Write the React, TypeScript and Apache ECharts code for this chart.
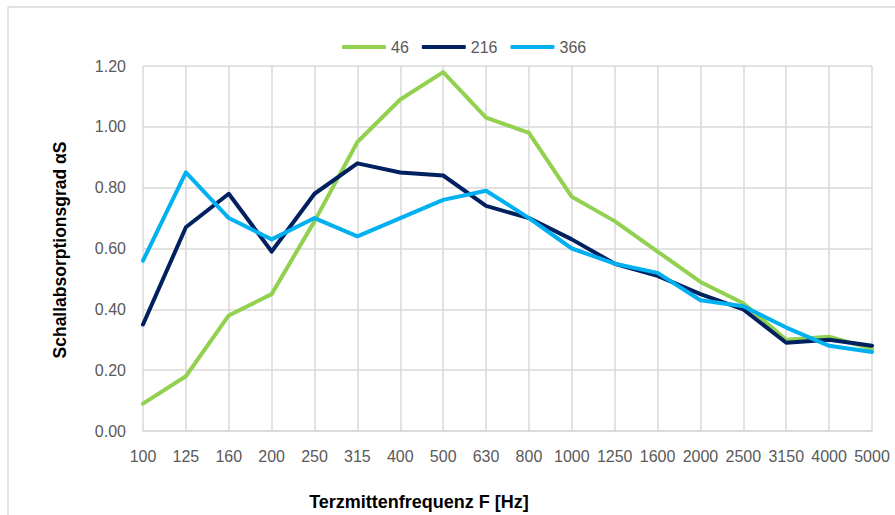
import React, { useEffect, useRef } from "react";
import * as echarts from "echarts";

const categories = ["100", "125", "160", "200", "250", "315", "400", "500", "630", "800", "1000", "1250", "1600", "2000", "2500", "3150", "4000", "5000"];
const series46 = [0.09, 0.18, 0.38, 0.45, 0.69, 0.95, 1.09, 1.18, 1.03, 0.98, 0.77, 0.69, 0.59, 0.49, 0.42, 0.30, 0.31, 0.27];
const series216 = [0.35, 0.67, 0.78, 0.59, 0.78, 0.88, 0.85, 0.84, 0.74, 0.70, 0.63, 0.55, 0.51, 0.45, 0.40, 0.29, 0.30, 0.28];
const series366 = [0.56, 0.85, 0.70, 0.63, 0.70, 0.64, 0.70, 0.76, 0.79, 0.70, 0.60, 0.55, 0.52, 0.43, 0.41, 0.34, 0.28, 0.26];
const seriesNames = ["46", "216", "366"];
const xTitle = "Terzmittenfrequenz F [Hz]";
const yTitle = "Schallabsorptionsgrad αS";

const FONT = "'Liberation Sans', Arial, sans-serif";
const GRID_COLOR = "#D9D9D9";
const LABEL_COLOR = "#595959";

export default function App() {
  const ref = useRef<HTMLDivElement>(null);
  useEffect(() => {
    if (!ref.current) return;
    const chart = echarts.init(ref.current, undefined, { renderer: "svg" });
    const mk = (name: string, data: number[], color: string) => ({
      name,
      type: "line",
      data,
      symbol: "none",
      smooth: false,
      lineStyle: { color, width: 4, cap: "round", join: "round" },
      itemStyle: { color },
    });
    chart.setOption({
      animation: false,
      backgroundColor: "#ffffff",
      textStyle: { fontFamily: FONT },
      legend: {
        left: 337,
        top: 34,
        icon: "roundRect",
        itemWidth: 44,
        itemHeight: 4,
        itemGap: 13,
        textStyle: { color: LABEL_COLOR, fontSize: 16, fontFamily: FONT },
        data: seriesNames,
      },
      grid: { left: 143, right: 23, top: 66, bottom: 84, containLabel: false },
      xAxis: {
        type: "category",
        data: categories,
        boundaryGap: false,
        axisLine: { show: true, lineStyle: { color: GRID_COLOR, width: 1.5 } },
        axisTick: { show: false },
        axisLabel: { interval: 0, color: LABEL_COLOR, fontSize: 16, margin: 17, fontFamily: FONT },
        splitLine: { show: true, interval: 0, lineStyle: { color: GRID_COLOR, width: 1.5 } },
      },
      yAxis: {
        type: "value",
        min: 0,
        max: 1.2,
        interval: 0.2,
        axisLine: { show: false },
        axisTick: { show: false },
        axisLabel: {
          color: LABEL_COLOR,
          fontSize: 16,
          margin: 17,
          fontFamily: FONT,
          formatter: (v: number) => v.toFixed(2),
        },
        splitLine: { show: true, lineStyle: { color: GRID_COLOR, width: 1.5 } },
      },
      graphic: [
        { type: "line", shape: { x1: 8, y1: 7, x2: 895, y2: 7 }, style: { stroke: GRID_COLOR, lineWidth: 1.5 } },
        { type: "line", shape: { x1: 8, y1: 7, x2: 8, y2: 515 }, style: { stroke: GRID_COLOR, lineWidth: 1.5 } },
        {
          type: "text",
          x: 419,
          y: 502,
          style: { text: xTitle, fill: "#000", font: `bold 18px ${FONT}`, align: "center", verticalAlign: "middle" },
        },
        {
          type: "text",
          x: 60,
          y: 250,
          rotation: Math.PI / 2,
          style: { text: yTitle, fill: "#000", font: `bold 17.5px ${FONT}`, align: "center", verticalAlign: "middle" },
        },
      ],
      series: [
        mk(seriesNames[0], series46, "#92D050"),
        mk(seriesNames[1], series216, "#002060"),
        mk(seriesNames[2], series366, "#00B0F0"),
      ],
    });
    return () => chart.dispose();
  }, []);
  return <div ref={ref} style={{ position: "absolute", left: 0, top: 0, width: 895, height: 515 }} />;
}
